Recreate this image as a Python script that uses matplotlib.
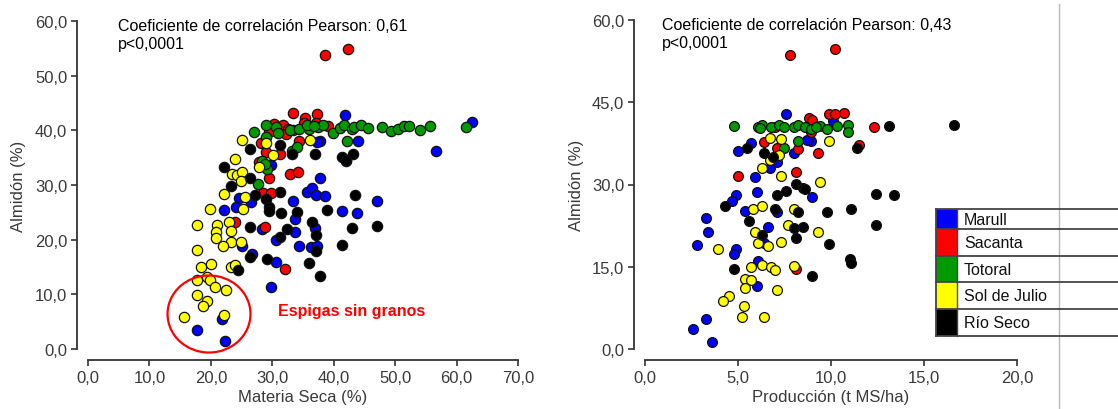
import matplotlib
matplotlib.use('Agg')
import matplotlib.pyplot as plt
from matplotlib.patches import Ellipse, Rectangle
from matplotlib.ticker import FuncFormatter

plt.rcParams['font.family'] = ['Liberation Sans', 'DejaVu Sans']

varieties = ['Marull', 'Sacanta', 'Totoral', 'Sol de Julio', 'Río Seco']
colors = ['#0000ff', '#ff0000', '#009900', '#ffff00', '#000000']

# materia seca (%) vs almidon (%)
marull_ms = [62.5, 56.6, 41.9, 43.9, 37.8, 37.3, 47.1, 43.8, 41.3, 42.0, 35.7, 36.4, 37.1, 38.5, 37.8, 33.4, 33.7, 33.7,
             34.3, 36.3, 37.0, 37.3, 30.6, 30.6, 29.8, 28.4, 26.7, 26.6, 24.5, 22.2, 24.1, 25.0, 29.8, 17.8, 22.3, 21.8]
marull_alm = [41.5, 36.2, 42.8, 38.1, 38.1, 37.9, 27.0, 24.9, 25.3, 34.3, 28.8, 29.4, 28.1, 28.0, 31.3, 27.1, 23.8, 21.4,
              18.9, 18.6, 22.1, 18.9, 20.0, 15.9, 11.4, 22.0, 17.4, 26.9, 27.7, 25.4, 26.0, 18.9, 33.6, 3.5, 1.4, 5.4]
sacanta_ms = [38.5, 42.4, 33.3, 37.3, 35.4, 31.8, 32.6, 34.3, 32.2, 28.1, 29.0, 29.5, 32.9, 34.2, 28.5, 29.8, 24.0, 28.8,
              32.0, 31.2, 27.8, 30.3, 33.4, 35.1, 37.1, 39.1, 29.5]
sacanta_alm = [53.8, 54.8, 43.1, 42.9, 42.3, 40.9, 40.3, 38.0, 39.4, 37.6, 36.0, 31.2, 32.1, 32.3, 28.6, 28.6, 23.2, 22.3,
               14.7, 35.6, 34.2, 41.2, 40.0, 41.4, 41.4, 40.8, 39.7]
totoral_ms = [27.1, 29.0, 29.0, 30.6, 31.0, 32.9, 34.3, 36.0, 37.4, 38.2, 39.9, 41.1, 41.6, 42.9, 43.3, 44.4, 45.6, 47.9,
              49.4, 50.4, 51.5, 52.3, 54.0, 55.6, 61.6, 42.2, 27.7, 29.2, 28.4, 28.8, 33.2, 34.0, 35.7, 36.8]
totoral_alm = [39.7, 41.0, 38.8, 40.6, 39.6, 40.0, 40.3, 40.2, 40.6, 41.0, 39.6, 40.4, 40.9, 40.3, 40.6, 41.0, 40.4, 40.6,
               39.9, 40.3, 40.8, 40.8, 40.1, 40.8, 40.6, 38.1, 30.2, 32.9, 34.3, 33.8, 36.2, 37.0, 40.9, 40.8]
soljulio_ms = [25.0, 24.0, 23.5, 24.3, 25.0, 24.9, 22.2, 19.9, 25.5, 25.2, 17.8, 21.0, 20.9, 20.8, 22.9, 23.2, 23.3, 24.9,
               22.0, 17.8, 18.4, 20.1, 17.8, 19.4, 19.9, 20.6, 22.4, 17.8, 19.4, 18.8, 22.2, 15.6, 29.0, 30.1, 27.9, 36.1,
               23.3, 23.9]
soljulio_alm = [38.2, 34.7, 32.1, 31.8, 32.4, 30.7, 28.4, 25.7, 27.8, 25.7, 22.7, 22.7, 21.4, 20.3, 23.3, 21.6, 19.5, 19.5,
                18.9, 18.1, 15.0, 15.5, 12.6, 13.1, 12.6, 11.3, 10.8, 9.8, 8.7, 7.8, 6.2, 5.8, 37.7, 35.4, 33.3, 38.2,
                15.0, 15.3]
rioseco_ms = [22.2, 23.3, 26.3, 26.3, 27.2, 29.0, 29.4, 31.2, 31.2, 33.2, 34.1, 31.4, 31.2, 32.4, 29.2, 26.4, 26.4, 24.4,
              36.0, 37.8, 37.1, 37.1, 36.5, 36.9, 38.9, 41.3, 41.3, 43.1, 43.5, 42.9, 47.0, 29.4, 42.0]
rioseco_alm = [33.3, 29.8, 36.5, 31.2, 28.1, 27.5, 26.0, 28.7, 37.3, 35.7, 25.0, 24.9, 20.5, 22.0, 16.5, 16.8, 22.3, 14.4,
               15.7, 13.3, 18.0, 20.8, 23.2, 35.6, 25.5, 19.1, 35.1, 35.6, 28.1, 22.2, 22.5, 25.3, 34.5]

# produccion (t MS/ha) vs almidon (%)
marull_prod = [7.6, 10.1, 8.9, 8.7, 5.7, 5.0, 8.0, 7.1, 6.7, 5.9, 6.0, 4.9, 4.7, 9.0, 5.4, 3.3, 3.4, 2.8, 4.9, 4.8,
               6.6, 6.4, 6.1, 6.0, 7.1, 3.3, 2.6, 3.6]
marull_alm2 = [42.8, 41.6, 37.9, 38.2, 37.6, 36.1, 35.8, 34.1, 33.1, 31.3, 28.7, 28.1, 27.0, 27.7, 25.2, 23.8, 21.3,
               18.9, 18.2, 17.3, 22.2, 19.4, 16.1, 11.5, 24.9, 5.5, 3.6, 1.3]
sacanta_prod = [7.8, 10.2, 9.9, 10.2, 10.7, 8.8, 9.0, 12.3, 11.5, 9.3, 8.2, 8.1, 6.4, 7.1, 5.0, 8.1, 8.9, 7.0]
sacanta_alm2 = [53.6, 54.8, 42.9, 42.9, 43.1, 42.2, 41.8, 40.5, 37.2, 35.7, 36.4, 32.2, 37.8, 36.7, 31.6, 14.5, 39.5, 40.4]
totoral_prod = [4.8, 6.1, 6.3, 6.8, 7.2, 7.5, 8.0, 8.2, 8.6, 8.9, 9.4, 9.8, 10.3, 10.9, 10.9, 8.2, 7.5, 6.2, 9.2]
totoral_alm2 = [40.7, 40.5, 40.8, 40.5, 40.8, 40.4, 40.5, 40.8, 40.4, 40.2, 40.7, 40.2, 40.7, 40.8, 39.6, 37.9, 36.7,
                40.3, 40.5]
soljulio_prod = [6.7, 7.3, 9.9, 7.2, 6.7, 6.3, 7.3, 9.4, 5.8, 6.3, 8.0, 7.7, 9.3, 5.9, 6.1, 6.6, 7.3, 3.9, 5.7, 6.3,
                 6.8, 7.0, 8.0, 5.4, 5.7, 5.4, 7.1, 4.5, 4.2, 5.3, 5.2, 6.4]
soljulio_alm2 = [38.4, 38.3, 37.9, 35.3, 34.4, 33.1, 31.6, 30.4, 25.6, 26.1, 25.6, 22.6, 21.4, 21.3, 19.4, 18.7, 19.6,
                 18.3, 15.0, 15.4, 14.9, 14.4, 15.2, 12.8, 12.6, 11.2, 10.8, 9.7, 8.7, 7.8, 5.8, 5.8]
rioseco_prod = [16.6, 13.1, 11.4, 5.5, 6.4, 4.3, 5.6, 6.3, 4.8, 7.6, 7.1, 8.1, 8.5, 8.6, 7.0, 8.2, 8.5, 8.0, 8.1, 9.8,
                9.9, 11.1, 11.0, 11.1, 12.4, 13.4, 12.4, 9.0, 6.9]
rioseco_alm2 = [40.8, 40.6, 36.6, 36.6, 35.7, 26.1, 23.3, 20.8, 14.5, 28.8, 28.1, 30.1, 29.4, 29.1, 25.5, 24.9, 22.2,
                22.0, 20.3, 25.0, 19.1, 25.6, 16.5, 15.7, 28.2, 28.1, 22.6, 13.4, 35.0]

left_series = [(marull_ms, marull_alm), (sacanta_ms, sacanta_alm), (totoral_ms, totoral_alm),
               (soljulio_ms, soljulio_alm), (rioseco_ms, rioseco_alm)]
right_series = [(marull_prod, marull_alm2), (sacanta_prod, sacanta_alm2), (totoral_prod, totoral_alm2),
                (soljulio_prod, soljulio_alm2), (rioseco_prod, rioseco_alm2)]

W, H = 1118, 410
fig = plt.figure(figsize=(W / 100, H / 100), dpi=100)
ax1 = fig.add_axes([88 / W, 60 / H, 430 / W, 328 / H])
ax2 = fig.add_axes([645 / W, 60 / H, 372 / W, 329 / H])

comma = FuncFormatter(lambda v, _: f'{v:.1f}'.replace('.', ','))
txt_col = '#3a3a3a'

def style(ax, xmax, xstep, ystep, xlabel):
    ax.set_xlim(0, xmax); ax.set_ylim(0, 60)
    ax.set_xticks(range(0, xmax + 1, xstep)); ax.set_yticks(range(0, 61, ystep))
    ax.xaxis.set_major_formatter(comma); ax.yaxis.set_major_formatter(comma)
    for s in ['top', 'right']:
        ax.spines[s].set_visible(False)
    for s in ['left', 'bottom']:
        ax.spines[s].set_position(('outward', 8))
        ax.spines[s].set_linewidth(1.3); ax.spines[s].set_color('#333333')
    ax.tick_params(length=4, width=1.2, color='#333333', labelsize=12, labelcolor=txt_col, pad=3)
    ax.set_xlabel(xlabel, fontsize=12, color=txt_col, labelpad=3)
    ax.set_ylabel('Almidón (%)', fontsize=12, color=txt_col, labelpad=6)
    ax.set_facecolor('none')

def scatter(ax, series, size):
    for (xs, ys), c in zip(series, colors):
        ax.scatter(xs, ys, s=size, c=c, marker='o', edgecolors='#111111', linewidths=0.9, clip_on=False, zorder=3)

style(ax1, 70, 10, 10, 'Materia Seca (%)')
style(ax2, 20, 5, 15, 'Producción (t MS/ha)')
scatter(ax1, left_series, 55)
scatter(ax2, right_series, 50)

ax1.text(4.9, 60.6, 'Coeficiente de correlación Pearson: 0,61\np<0,0001', fontsize=11.5, va='top', linespacing=1.25)
ax2.text(0.9, 60.6, 'Coeficiente de correlación Pearson: 0,43\np<0,0001', fontsize=11.5, va='top', linespacing=1.25)

# circle marking spikes without grain
ax1.add_patch(Ellipse((19.7, 6.4), 13.5, 14.1, fill=False, edgecolor='#ff0000', lw=1.6, clip_on=False, zorder=4))
ax1.text(30.9, 7.0, 'Espigas sin granos', color='#ff0000', fontsize=11.5, fontweight='bold', va='center')

# table-like legend and separator line
ov = fig.add_axes([0, 0, 1, 1])
ov.set_xlim(0, W); ov.set_ylim(H, 0); ov.axis('off')
ov.plot([1059, 1059], [5, H], color='#bbbbbb', lw=1)
rows = [210, 230, 257, 283, 310, 337]
for i, (name, c) in enumerate(zip(varieties, colors)):
    y0, y1 = rows[i], rows[i + 1]
    ov.add_patch(Rectangle((936, y0), 21, y1 - y0, facecolor=c, edgecolor='none'))
    ov.text(964, (y0 + y1) / 2 + 0.5, name, fontsize=11.5, va='center', color='#111111')
for y in rows:
    ov.plot([936, W], [y, y], color='#444444', lw=1.3)
ov.plot([936, 936], [rows[0], rows[-1]], color='#444444', lw=1.3)
ov.plot([957, 957], [rows[0], rows[-1]], color='#444444', lw=1.0)

fig.savefig('out.png', dpi=100, facecolor='white')
